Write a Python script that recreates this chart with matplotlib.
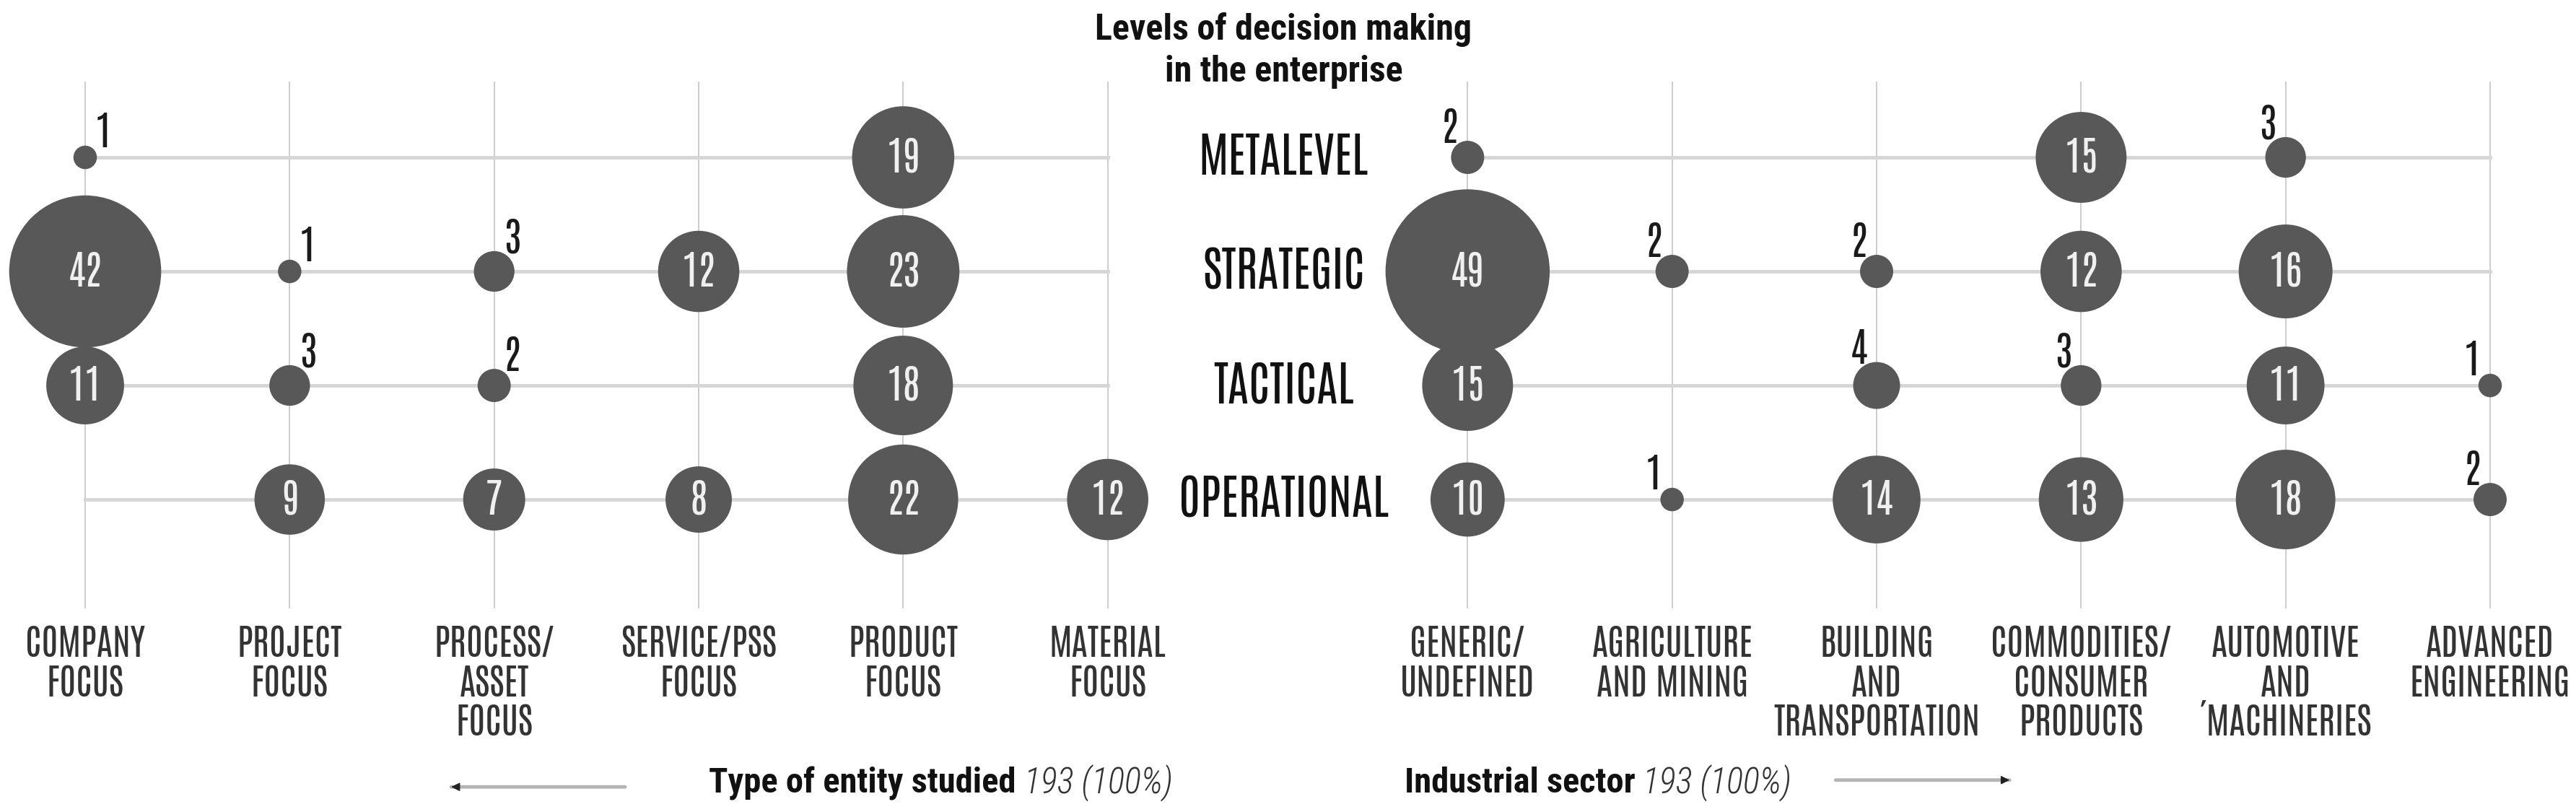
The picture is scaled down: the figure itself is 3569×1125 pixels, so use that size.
import matplotlib.pyplot as plt
import numpy as np

# levels of decision making (rows)
levels = ['METALEVEL', 'STRATEGIC', 'TACTICAL', 'OPERATIONAL']

# type of entity studied (left block)
entity_cats = ['COMPANY\nFOCUS', 'PROJECT\nFOCUS', 'PROCESS/\nASSET\nFOCUS',
               'SERVICE/PSS\nFOCUS', 'PRODUCT\nFOCUS', 'MATERIAL\nFOCUS']
entity_counts = [[1, 0, 0, 0, 19, 0],
                 [42, 1, 3, 12, 23, 0],
                 [11, 3, 2, 0, 18, 0],
                 [0, 9, 7, 8, 22, 12]]

# industrial sector (right block)
sector_cats = ['GENERIC/\nUNDEFINED', 'AGRICULTURE\nAND MINING',
               'BUILDING\nAND\nTRANSPORTATION', 'COMMODITIES/\nCONSUMER\nPRODUCTS',
               'AUTOMOTIVE\nAND\n\u00b4MACHINERIES', 'ADVANCED\nENGINEERING']
sector_counts = [[2, 0, 0, 15, 3, 0],
                 [49, 2, 2, 12, 16, 0],
                 [15, 0, 4, 3, 11, 1],
                 [10, 1, 14, 13, 18, 2]]

thin = ['Antonio', 'Fira Sans Extra Condensed', 'DejaVu Sans']
cond = ['Roboto Condensed', 'Fira Sans Condensed', 'DejaVu Sans']
plt.rcParams['font.family'] = thin

bubble_col = '#585858'
px2pt = 0.72    # dpi 100
diam_px = 32.5  # bubble diameter per sqrt(count)

fig = plt.figure(figsize=(35.69, 11.25), dpi=100)
ax = fig.add_axes([0, 0, 1, 1])
ax.set_xlim(-0.4165, 12.18)
ax.set_ylim(5.74, -1.38)
ax.axis('off')

left_x = np.arange(6)
right_x = 6.76 + np.arange(6)
mid_x = 5.86
rows = np.arange(len(levels))


def draw_block(xs, cats, counts, side):
    # grid lines
    for x in xs:
        ax.plot([x, x], [-0.66, 3.95], color='#c8c8c8', lw=1.3, zorder=1)
    for r in rows:
        ax.plot([xs[0], xs[-1]], [r, r], color='#d6d6d6', lw=3.5, zorder=2)
    for r in rows:
        for c, x in enumerate(xs):
            v = counts[r][c]
            if v == 0:
                continue
            ax.scatter(x, r, s=(diam_px * px2pt) ** 2 * v, color=bubble_col,
                       edgecolors='none', zorder=3)
            if v >= 7:
                ax.text(x, r, str(v), ha='center', va='center', fontsize=40,
                        fontweight=200, color='#f0f0f0', zorder=4)
            else:
                rad = diam_px * np.sqrt(v) / 2
                dx = 25 if side == 'left' else -25
                ax.annotate(str(v), (x, r), xytext=(dx * px2pt, (rad + 18) * px2pt),
                            textcoords='offset points', ha='center', va='center',
                            fontsize=40, fontweight=200, color='#1a1a1a', zorder=4)
    for x, lab in zip(xs, cats):
        ax.text(x, 4.11, lab, ha='center', va='top', fontsize=36, fontweight=300,
                color='#333333', linespacing=1.12)


draw_block(left_x, entity_cats, entity_counts, 'left')
draw_block(right_x, sector_cats, sector_counts, 'right')

for r, lab in zip(rows, levels):
    ax.text(mid_x, r, lab, ha='center', va='center', fontsize=47,
            fontweight=200, color='#111111')

ax.text(mid_x, -0.935, 'Levels of decision making\nin the enterprise', ha='center',
        va='center', fontsize=36, fontweight='bold', color='#111111',
        linespacing=1.3, family=cond)

# bottom captions
t1 = ax.text(3.05, 5.49, 'Type of entity studied', ha='left', va='center',
             fontsize=35, fontweight='bold', color='#111111', family=cond)
ax.annotate(' 193 (100%)', xy=(1, 0.5), xycoords=t1, ha='left', va='center',
            fontsize=35, style='italic', fontweight='light', color='#333333', family=cond)
t2 = ax.text(6.45, 5.49, 'Industrial sector', ha='left', va='center',
             fontsize=35, fontweight='bold', color='#111111', family=cond)
ax.annotate(' 193 (100%)', xy=(1, 0.5), xycoords=t2, ha='left', va='center',
            fontsize=35, style='italic', fontweight='light', color='#333333', family=cond)

# arrows: grey shaft, dark head
for x0, x1, y in [(2.64, 1.79, 5.52), (8.56, 9.41, 5.46)]:
    ax.annotate('', xy=(x1, y), xytext=(x0, y),
                arrowprops=dict(arrowstyle='-', color='#b4b4b4', lw=3.5,
                                shrinkA=0, shrinkB=0))
    ax.annotate('', xy=(x1, y), xytext=(x1 + 0.02 * np.sign(x0 - x1), y),
                arrowprops=dict(arrowstyle='-|>', color='#222222', lw=1,
                                mutation_scale=18, shrinkA=0, shrinkB=0))

fig.savefig('out.png', dpi=100, facecolor='white')
